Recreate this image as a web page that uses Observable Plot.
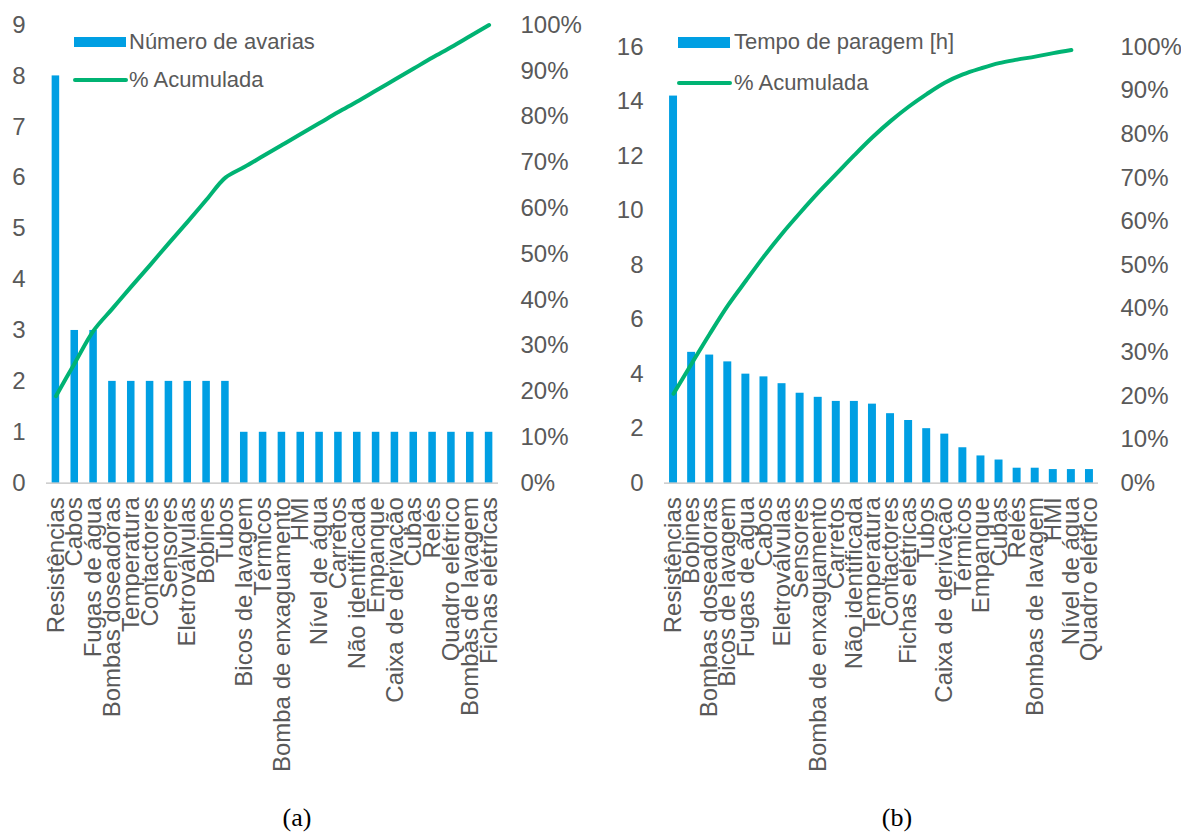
<!DOCTYPE html>
<html>
<head>
<meta charset="utf-8">
<script src="https://cdn.jsdelivr.net/npm/d3@7"></script>
<script src="https://cdn.jsdelivr.net/npm/@observablehq/plot@0.6"></script>
<style>
  html, body { margin: 0; padding: 0; background: #fff; }
  #page { position: relative; width: 1181px; height: 835px; overflow: hidden; font-family: "Liberation Sans", Arial, sans-serif; }
  .chart { position: absolute; top: 0; }
  .chart > svg { position: absolute; left: 0; top: 0; }
  .legend { position: absolute; font-size: 22px; color: #595959; white-space: nowrap; line-height: 1; }
  .sw { position: absolute; }
  .caption { position: absolute; font-family: "Liberation Serif", "Times New Roman", serif; font-size: 26px; color: #000; transform: translateX(-50%); }
</style>
</head>
<body>
<div id="page"></div>
<script>
// (a) Number of failures per component
const catsA = ["Resistências","Cabos","Fugas de água","Bombas doseadoras","Temperatura","Contactores","Sensores","Eletroválvulas","Bobines","Tubos","Bicos de lavagem","Térmicos","Bomba de enxaguamento","HMI","Nível de água","Carretos","Não identificada","Empanque","Caixa de derivação","Cubas","Relés","Quadro elétrico","Bombas de lavagem","Fichas elétricas"];
const avarias = [8,3,3,2,2,2,2,2,2,2,1,1,1,1,1,1,1,1,1,1,1,1,1,1];
const acumA = [19.0,26.2,33.3,38.1,42.9,47.6,52.4,57.1,61.9,66.7,69.0,71.4,73.8,76.2,78.6,81.0,83.3,85.7,88.1,90.5,92.9,95.2,97.6,100];
const ticksA = [0,1,2,3,4,5,6,7,8,9];

// (b) Downtime per component, in hours
const catsB = ["Resistências","Bobines","Bombas doseadoras","Bicos de lavagem","Fugas de água","Cabos","Eletroválvulas","Sensores","Bomba de enxaguamento","Carretos","Não identificada","Temperatura","Contactores","Fichas elétricas","Tubos","Caixa de derivação","Térmicos","Empanque","Cubas","Relés","Bombas de lavagem","HMI","Nível de água","Quadro elétrico"];
const tempo = [14.2,4.8,4.7,4.45,4.0,3.9,3.65,3.3,3.15,3.0,3.0,2.9,2.55,2.3,2.0,1.8,1.3,1.0,0.85,0.55,0.55,0.5,0.5,0.5];
const acumB = [20.5,27.4,34.2,40.7,46.4,52.0,57.2,62.0,66.6,70.9,75.2,79.3,83.0,86.3,89.2,91.8,93.7,95.1,96.3,97.1,97.8,98.6,99.3];
const ticksB = [0,2,4,6,8,10,12,14,16];

const pctTicks = [0,10,20,30,40,50,60,70,80,90,100];

const BLUE = "#009FE3";
const GREEN = "#00B373";
const GREY = "#595959";
const FONT = "Liberation Sans, Arial, sans-serif";

function pareto({left, width, marginLeft, marginRight, marginTop, cats, values, cum, yMax, yTicks, pad, barLabel, legend}) {
  const height = 790;
  const marginBottom = 307.3;
  const xScale = {type: "band", domain: cats, paddingInner: pad, paddingOuter: pad / 2, round: false};
  const common = {width, height, marginLeft, marginRight, marginTop, marginBottom};
  const style = {background: "transparent", color: GREY, fontFamily: FONT, overflow: "visible"};

  const bars = Plot.plot({
    ...common, style,
    x: xScale,
    y: {domain: [0, yMax]},
    marks: [
      Plot.barY(cats.map((c, i) => ({c, v: values[i]})), {x: "c", y: "v", fill: BLUE}),
      Plot.ruleY([0], {stroke: "#BFBFBF", strokeWidth: 1.3}),
      Plot.axisY({ticks: yTicks, tickSize: 0, tickPadding: 21, fontSize: 24, label: null}),
      Plot.axisX({tickSize: 0, tickPadding: 14, tickRotate: -90, fontSize: 24, label: null})
    ]
  });

  const line = Plot.plot({
    ...common, style,
    x: {...xScale, axis: null},
    y: {domain: [0, 100]},
    marks: [
      Plot.line(cum.map((p, i) => ({c: cats[i], p})), {x: "c", y: "p", stroke: GREEN, strokeWidth: 4, curve: "catmull-rom"}),
      Plot.axisY({anchor: "right", ticks: pctTicks, tickFormat: d => d + "%", tickSize: 0, tickPadding: 22, fontSize: 24, label: null})
    ]
  });

  const box = document.createElement("div");
  box.className = "chart";
  box.style.left = left + "px";
  box.style.width = width + "px";
  box.style.height = height + "px";
  box.append(bars, line);

  // legend inside the plotting area
  const {sw, text, top1, top2, h1} = legend;
  box.insertAdjacentHTML("beforeend", `
    <div class="sw" style="left:${sw}px;top:${top1 - h1 / 2}px;width:52px;height:${h1}px;background:${BLUE}"></div>
    <div class="legend" style="left:${text}px;top:${top1 - 11}px">${barLabel}</div>
    <div class="sw" style="left:${sw - 1.5}px;top:${top2 - 2}px;width:55px;height:4px;border-radius:2px;background:${GREEN}"></div>
    <div class="legend" style="left:${text}px;top:${top2 - 11}px">% Acumulada</div>`);
  return box;
}

const page = document.getElementById("page");
page.append(
  pareto({left: 0, width: 590, marginLeft: 46, marginRight: 92, marginTop: 24.5,
          cats: catsA, values: avarias, cum: acumA, yMax: 9, yTicks: ticksA, pad: 0.6,
          barLabel: "Número de avarias", legend: {sw: 74, text: 129, top1: 41.5, top2: 79.7, h1: 10}}),
  pareto({left: 590, width: 591, marginLeft: 74, marginRight: 83, marginTop: 46.5,
          cats: catsB, values: tempo, cum: acumB, yMax: 16, yTicks: ticksB, pad: 0.56,
          barLabel: "Tempo de paragem [h]", legend: {sw: 88, text: 144, top1: 42, top2: 83.3, h1: 11}})
);
page.insertAdjacentHTML("beforeend", `
  <div class="caption" style="left:297px;top:803px">(a)</div>
  <div class="caption" style="left:897px;top:803px">(b)</div>`);
</script>
</body>
</html>
